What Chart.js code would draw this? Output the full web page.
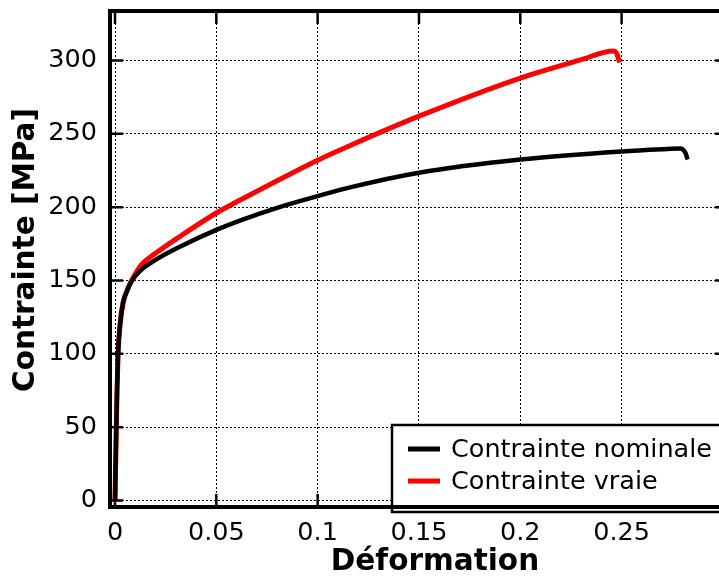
<!DOCTYPE html>
<html lang="fr">
<head>
    <meta charset="utf-8">
    <title>Contrainte - Déformation</title>
    <style>
        body { margin: 0; overflow: hidden; background: #fff; }
        #wrap { position: absolute; left: 0; top: 0; width: 730px; height: 577px; }
    </style>
</head>
<body>
<div id="wrap">
    <canvas id="myChart" width="730" height="577"></canvas>
</div>
<script src="https://cdn.jsdelivr.net/npm/chart.js"></script>
<script>
    // values
    var seriesLabels = ['Contrainte nominale', 'Contrainte vraie'];
    var xTitle = 'Déformation';
    var yTitle = 'Contrainte [MPa]';
    var strainNominal = [0, 0.0005, 0.001, 0.0015, 0.0025, 0.004, 0.006, 0.008, 0.012, 0.02, 0.032, 0.05, 0.062, 0.08, 0.1, 0.116, 0.15, 0.2, 0.25, 0.27, 0.279, 0.2815, 0.2826];
    var stressNominal = [0, 40, 75, 100, 120, 135, 143, 149, 156, 164, 173, 184.5, 191, 199.5, 207.5, 213.5, 223.5, 232.5, 238, 239.5, 240, 237, 232.5];
    var strainVraie = [0, 0.0005, 0.001, 0.0015, 0.0025, 0.004, 0.006, 0.008, 0.0132, 0.02, 0.032, 0.05, 0.062, 0.08, 0.1, 0.116, 0.15, 0.2, 0.23, 0.2458, 0.2475, 0.249];
    var stressVraie = [0, 40, 75, 100, 120, 135, 143.5, 149.5, 161, 168.5, 180, 196, 205, 218, 232, 242, 262, 288, 300.5, 306.5, 305, 298.6];
    var xTicks = [0, 0.05, 0.1, 0.15, 0.2, 0.25];
    var yTicks = [0, 50, 100, 150, 200, 250, 300];

    function toPoints(xs, ys) {
        var pts = [];
        for (var i = 0; i < xs.length; i++) pts.push({x: xs[i], y: ys[i]});
        return pts;
    }

    var FONT = 'DejaVu Sans';

    // frame, inward ticks on all four sides, axis titles and the legend box
    var framePlugin = {
        id: 'frame',
        afterDraw: function (chart) {
            var ctx = chart.ctx;
            var a = chart.chartArea;
            var xs = chart.scales.x, ys = chart.scales.y;
            ctx.save();
            ctx.strokeStyle = '#000';
            ctx.lineWidth = 2.5;
            ctx.beginPath();
            xTicks.forEach(function (v) {
                var px = xs.getPixelForValue(v);
                ctx.moveTo(px, a.bottom); ctx.lineTo(px, a.bottom - 13);
                ctx.moveTo(px, a.top); ctx.lineTo(px, a.top + 13);
            });
            yTicks.forEach(function (v) {
                var py = ys.getPixelForValue(v);
                ctx.moveTo(a.left, py); ctx.lineTo(a.left + 13, py);
                ctx.moveTo(a.right, py); ctx.lineTo(a.right - 13, py);
            });
            ctx.stroke();

            // legend
            var lx = 392, ly = 425;
            ctx.fillStyle = '#fff';
            ctx.fillRect(lx, ly, 400, a.bottom - ly);
            ctx.lineWidth = 2.5;
            ctx.strokeRect(lx, ly, 400, a.bottom - ly + 5);
            ctx.font = '25.5px "' + FONT + '"';
            ctx.textBaseline = 'middle';
            chart.data.datasets.forEach(function (ds, i) {
                var y = 449 + i * 32;
                ctx.strokeStyle = ds.borderColor;
                ctx.lineWidth = 5;
                ctx.beginPath();
                ctx.moveTo(408, y); ctx.lineTo(440, y);
                ctx.stroke();
                ctx.fillStyle = '#000';
                ctx.fillText(ds.label, 451, y + 1);
            });

            // axes box
            ctx.strokeStyle = '#000';
            ctx.lineWidth = 4;
            ctx.strokeRect(a.left, a.top, a.right - a.left, a.bottom - a.top);

            // axis titles
            ctx.fillStyle = '#000';
            ctx.font = 'bold 29.5px "' + FONT + '"';
            ctx.textAlign = 'center';
            ctx.textBaseline = 'middle';
            ctx.fillText(xTitle, 435, 562);
            ctx.translate(26, 250);
            ctx.rotate(-Math.PI / 2);
            ctx.fillText(yTitle, 0, 0);
            ctx.restore();
        }
    };

    var ctx = document.getElementById('myChart').getContext('2d');
    var myChart = new Chart(ctx, {
        type: 'line',
        data: {
            datasets: [{
                label: seriesLabels[0],
                data: toPoints(strainNominal, stressNominal),
                borderColor: '#000000',
                borderWidth: 4.5,
                pointRadius: 0,
                cubicInterpolationMode: 'monotone',
                fill: false
            }, {
                label: seriesLabels[1],
                data: toPoints(strainVraie, stressVraie),
                borderColor: '#ff0000',
                borderWidth: 5,
                pointRadius: 0,
                cubicInterpolationMode: 'monotone',
                fill: false
            }]
        },
        options: {
            responsive: false,
            animation: false,
            devicePixelRatio: 1,
            layout: { padding: { top: 11, right: 2, left: 0, bottom: 0 } },
            plugins: { legend: { display: false }, tooltip: { enabled: false } },
            scales: {
                x: {
                    type: 'linear',
                    min: -0.00247,
                    max: 0.3025,
                    afterBuildTicks: function (axis) { axis.ticks = xTicks.map(function (v) { return {value: v}; }); },
                    afterFit: function (axis) { axis.height = 70; axis.paddingLeft = 0; axis.paddingRight = 0; },
                    grid: { color: '#000', lineWidth: 1, drawTicks: false },
                    border: { display: false, dash: [2, 2] },
                    ticks: {
                        color: '#000', padding: 11, maxRotation: 0,
                        font: { family: FONT, size: 25.5 },
                        callback: function (v) { return String(v); }
                    }
                },
                y: {
                    type: 'linear',
                    min: -4.4,
                    max: 333.7,
                    afterBuildTicks: function (axis) { axis.ticks = yTicks.map(function (v) { return {value: v}; }); },
                    afterFit: function (axis) { axis.width = 110; axis.paddingTop = 0; axis.paddingBottom = 0; },
                    grid: { color: '#000', lineWidth: 1, drawTicks: false },
                    border: { display: false, dash: [2, 2] },
                    ticks: {
                        color: '#000', padding: 13,
                        font: { family: FONT, size: 25.5 }
                    }
                }
            }
        },
        plugins: [framePlugin]
    });
</script>
</body>
</html>
